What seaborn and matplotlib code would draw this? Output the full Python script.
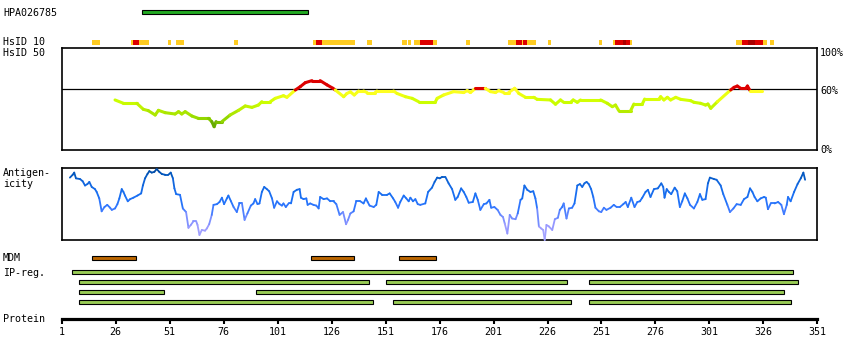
import matplotlib
matplotlib.use("Agg")
import numpy as np
import matplotlib.pyplot as plt
from matplotlib.collections import LineCollection
from matplotlib.colors import LinearSegmentedColormap, Normalize
import seaborn as sns

# ---------------- data ----------------
protein_len = 351
ruler_ticks = [1, 26, 51, 76, 101, 126, 151, 176, 201, 226, 251, 276, 301, 326, 351]

hpa_name = "HPA026785"
hpa_start, hpa_end = 38.2, 115.2

hsid10_start = [15.0, 33.1, 33.9, 36.8, 50.3, 54.0, 80.9, 117.6, 118.6, 121.4,
                142.4, 158.6, 161.2, 164.3, 167.0, 173.1, 188.1, 207.9, 211.5, 214.1,
                214.5, 216.7, 226.0, 249.8, 256.4, 257.4, 260.8, 262.5, 264.1, 313.3,
                316.0, 319.0, 322.1, 326.0, 329.2]
hsid10_end = [18.8, 33.9, 36.8, 41.5, 51.7, 57.7, 82.7, 118.6, 121.4, 137.0,
              144.5, 160.8, 162.6, 167.0, 173.1, 175.0, 190.3, 211.5, 214.1, 214.5,
              216.7, 220.7, 227.4, 251.2, 257.4, 260.8, 262.5, 264.1, 265.3, 316.0,
              319.0, 322.1, 326.0, 327.7, 330.9]
hsid10_level = ["o", "o", "r", "o", "o", "o", "o", "o", "r", "o",
                "o", "o", "o", "o", "r", "o", "o", "o", "r", "o",
                "r", "o", "o", "o", "o", "r", "d", "r", "o", "o",
                "r", "d", "r", "o", "o"]

hsid50_res = [25.7, 29.6, 35.8, 38.8, 41.1, 44.3, 45.8, 48.9, 53.5, 55.1,
              56.6, 58.2, 61.3, 64.3, 69.0, 70.5, 71.6, 72.5, 75.2, 79.0,
              82.9, 86.0, 89.1, 92.1, 93.7, 97.6, 99.9, 103.7, 105.3, 109.2,
              111.5, 113.8, 116.9, 120.7, 123.9, 126.6, 127.7, 131.6, 133.1, 134.7,
              136.5, 138.5, 140.8, 142.4, 146.2, 147.0, 154.7, 156.3, 160.2, 163.3,
              166.3, 171.7, 174.1, 174.9, 177.9, 182.5, 187.2, 188.8, 190.3, 192.6,
              197.2, 199.6, 201.9, 203.4, 205.7, 208.0, 210.8, 212.7, 215.8, 219.6,
              221.2, 227.4, 229.7, 232.0, 233.5, 236.7, 237.9, 239.8, 241.3, 250.6,
              253.7, 256.0, 257.5, 259.0, 264.5, 266.0, 269.9, 271.0, 277.6, 278.4,
              279.9, 281.5, 283.0, 285.4, 287.7, 292.3, 293.8, 296.9, 299.2, 300.3,
              301.6, 304.7, 310.8, 312.4, 313.9, 315.5, 317.8, 318.6, 319.8, 325.5]
hsid50_pct = [49.2, 45.9, 45.9, 40.0, 38.7, 34.4, 39.0, 36.7, 35.4, 37.7,
              35.4, 37.7, 33.4, 31.1, 31.1, 27.9, 22.9, 27.9, 27.9, 34.4,
              39.0, 43.3, 41.9, 44.2, 47.5, 47.5, 50.8, 53.4, 51.8, 59.0,
              62.3, 66.2, 68.2, 68.2, 64.0, 60.7, 59.0, 52.4, 55.6, 57.2,
              54.1, 58.0, 58.0, 56.5, 56.5, 58.0, 58.0, 55.6, 52.4, 50.8,
              47.5, 47.5, 47.5, 50.8, 54.1, 57.4, 56.5, 58.4, 56.5, 60.5,
              60.5, 57.4, 56.5, 58.4, 56.5, 56.5, 60.7, 55.6, 51.8, 51.8,
              49.8, 49.2, 45.0, 49.2, 46.9, 46.9, 49.2, 46.9, 49.2, 49.2,
              45.9, 42.6, 44.2, 38.7, 38.7, 45.2, 45.2, 50.1, 50.1, 52.4,
              49.2, 51.8, 49.2, 51.8, 49.8, 48.5, 46.9, 45.9, 44.2, 45.2,
              41.0, 47.5, 59.0, 61.6, 62.9, 60.6, 60.6, 62.9, 58.4, 58.4]

antigen_res = [4.8, 6.1, 6.8, 7.6, 9.5, 10.7, 11.8, 12.9, 13.8, 14.9,
               16.4, 17.2, 18.4, 19.5, 20.8, 22.1, 23.4, 24.2, 25.7, 26.8,
               27.7, 28.8, 29.6, 30.3, 31.6, 32.7, 34.2, 36.1, 37.8, 38.6,
               39.6, 40.7, 41.6, 42.7, 43.9, 45.0, 46.2, 47.4, 48.9, 50.4,
               51.5, 52.5, 53.2, 54.0, 55.8, 57.1, 58.6, 59.7, 60.8, 62.0,
               63.3, 63.9, 64.8, 65.9, 67.4, 68.2, 69.3, 70.5, 71.3, 72.9,
               74.1, 75.2, 76.2, 77.5, 78.2, 79.4, 80.6, 82.1, 83.3, 84.5,
               85.7, 87.0, 88.6, 89.8, 90.6,
               91.7, 92.6, 93.7, 94.8, 96.0, 97.1, 98.4, 99.4, 100.7, 101.9,
               103.0, 103.7, 104.8, 106.1, 107.2, 108.4, 109.9, 111.2, 111.8, 113.0,
               114.3, 114.9, 116.1, 117.6, 118.9, 120.0, 120.7, 122.3, 123.9, 125.4,
               126.9, 128.2, 129.7, 131.3, 132.7, 133.6, 134.7, 136.2, 137.4, 139.3,
               140.8, 141.9, 142.7, 143.6, 145.5, 146.7, 147.8, 149.4, 151.7, 152.9,
               154.5, 155.5, 156.8, 157.8, 159.4, 160.6, 161.7, 162.5, 163.7, 164.8,
               165.9, 167.1, 169.4, 170.7, 172.5, 173.7, 174.9, 176.1, 177.2, 178.7,
               180.2, 181.8, 183.3, 184.4, 186.0, 187.2, 188.4, 189.5, 191.4,
               192.6, 193.7, 194.9, 196.5, 197.7, 199.1, 199.9, 201.4, 202.9, 204.2,
               205.4, 206.2, 207.4, 208.5, 209.6, 211.2, 212.2, 213.5, 214.3, 215.3,
               216.6, 218.1, 219.4, 220.4, 221.2, 222.0, 223.1, 224.0, 224.7, 225.5,
               226.6, 228.2, 229.4, 230.8, 231.7, 232.8, 233.5, 234.8, 235.9, 237.4,
               238.5, 239.8, 241.0, 242.1, 243.1, 244.1, 245.1, 246.2, 247.2, 248.2,
               249.8, 250.9, 252.1, 253.3, 255.2, 256.7, 258.0, 259.5, 261.1, 262.2,
               263.2, 264.8,
               266.3, 267.6, 268.8, 269.9, 271.4, 272.5, 273.7, 275.3, 277.1, 278.7,
               279.6, 280.2, 281.2, 282.2, 283.3, 284.9, 286.1, 287.3, 288.4, 289.6,
               290.8, 292.0, 293.8, 295.4, 296.6, 297.7, 299.2, 300.3, 301.2, 303.1,
               304.3, 306.2, 307.4, 309.3, 310.5, 312.1, 313.6, 315.5, 317.0, 318.6,
               319.8, 320.9, 321.9, 323.2, 324.7, 326.3, 327.1, 328.1, 329.4, 331.2,
               332.8, 334.3, 335.5, 336.8, 337.4, 338.6, 340.2, 341.8, 343.3, 344.5,
               345.3]
antigen_val = [.87, .91, .94, .86, .85, .82, .76, .78, .81, .74,
               .71, .67, .58, .40, .46, .49, .45, .42, .44, .50,
               .58, .71, .67, .62, .54, .57, .59, .62, .65, .76,
               .86, .92, .96, .94, .95, .99, .95, .92, .91, .91,
               .94, .86, .72, .64, .63, .44, .39, .17, .21, .26,
               .26, .21, .07, .14, .13, .16, .22, .35, .49, .50,
               .53, .59, .50, .58, .62, .54, .46, .39, .51, .51,
               .28, .37, .48, .51, .57,
               .50, .51, .67, .74, .71, .68, .58, .45, .54, .50,
               .48, .51, .46, .51, .51, .67, .70, .71, .59, .57,
               .58, .49, .51, .49, .48, .44, .60, .57, .58, .54,
               .54, .50, .35, .39, .22, .28, .37, .40, .54, .54,
               .51, .58, .53, .48, .46, .49, .67, .63, .63, .65,
               .58, .53, .45, .53, .62, .58, .54, .59, .54, .57,
               .50, .49, .51, .67, .73, .81, .87, .86, .88, .88,
               .79, .71, .56, .60, .72, .67, .60, .52, .53,
               .65, .56, .42, .50, .51, .56, .45, .46, .42, .35,
               .32, .23, .09, .35, .30, .29, .37, .56, .58, .76,
               .70, .67, .68, .58, .44, .19, .16, .14, .00, .21,
               .19, .14, .29, .31, .42, .46, .51, .30, .44, .45,
               .51, .76, .78, .74, .79, .81, .78, .71, .60, .45,
               .40, .39, .45, .42, .45, .49, .46, .46, .50, .53,
               .46, .59,
               .46, .53, .54, .59, .67, .70, .60, .71, .72, .79,
               .74, .59, .71, .67, .64, .73, .68, .46, .54, .65,
               .58, .49, .44, .53, .64, .56, .57, .79, .87, .85,
               .84, .76, .64, .49, .39, .44, .50, .49, .57, .60,
               .72, .67, .60, .54, .58, .60, .59, .43, .51, .51,
               .53, .49, .36, .49, .60, .54, .67, .78, .86, .94,
               .84]

mdm_start = [15.2, 116.3, 157.0]
mdm_end = [35.3, 136.2, 174.2]

ip_row = [0, 1, 1, 1, 2, 2, 3, 3, 3]
ip_start = [5.6, 9.2, 151.0, 245.1, 9.2, 91.2, 9.2, 154.3, 245.1]
ip_end = [339.9, 143.3, 235.1, 342.2, 48.3, 335.3, 145.2, 237.0, 338.8]

# ---------------- style ----------------
sns.set_theme(style="white")
plt.rcParams["font.family"] = ["DejaVu Sans Mono", "DejaVu Sans"]
FS = 7.2

W, H = 850, 360
L, R = 61.7, 817.4
fig = plt.figure(figsize=(W / 100, H / 100), dpi=100)
fig.patch.set_facecolor("white")


def rect(x0, y0, x1, y1):
    return [x0 / W, 1 - y1 / H, (x1 - x0) / W, (y1 - y0) / H]


def label(x, ybase, s, va="baseline"):
    fig.text(x / W, 1 - ybase / H, s, fontsize=FS, color="black", va=va, ha="left")


# track axes (layout rows in pixel units, x in residues)
track = fig.add_axes(rect(L, 0, R, H))
track.set_xlim(1, protein_len)
track.set_ylim(H, 0)
track.axis("off")
track.patch.set_alpha(0)

# HPA antigen bar
track.barh(12.3, hpa_end - hpa_start, left=hpa_start, height=4.0,
           color="#22aa22", edgecolor="black", linewidth=0.8)

# HsID 10 bars
lvl_col = {"o": "#ffcc22", "r": "#dd0000", "d": "#aa0000"}
track.barh([42.5] * len(hsid10_start),
           np.array(hsid10_end) - np.array(hsid10_start), left=hsid10_start,
           height=5.0, color=[lvl_col[l] for l in hsid10_level], linewidth=0)

# MDM bars
track.barh([257.8] * len(mdm_start), np.array(mdm_end) - np.array(mdm_start),
           left=mdm_start, height=4.2, color="#bb6600", edgecolor="black", linewidth=0.8)

# IP-reg bars
track.barh(272.3 + 10 * np.array(ip_row), np.array(ip_end) - np.array(ip_start),
           left=ip_start, height=4.0, color="#99cc55", edgecolor="black", linewidth=0.8)

# ---------------- HsID 50 panel ----------------
ax50 = fig.add_axes(rect(L, 48.3, R, 150))
ax50.set_xlim(1, protein_len)
ax50.set_ylim(0, 100)
ax50.set_xticks([])
ax50.set_yticks([])
for s in ax50.spines.values():
    s.set_linewidth(1.2)
    s.set_color("black")
ax50.axhline(60, color="black", lw=0.9, zorder=1)

green_cmap = LinearSegmentedColormap.from_list(
    "hsid", [(0.0, "#448800"), (0.125, "#66aa00"), (0.3, "#99dd00"),
             (0.5, "#bbee00"), (0.7, "#ccff00"), (0.85, "#eeff11"),
             (0.95, "#ffff22"), (1.0, "#ffff22")])
gnorm = Normalize(20, 60)
x50 = np.array(hsid50_res)
y50 = np.array(hsid50_pct)
pts = np.column_stack([x50, y50])
segs = np.stack([pts[:-1], pts[1:]], axis=1)
mids = (y50[:-1] + y50[1:]) / 2
cols = ["#dd0000" if m >= 59.8 else green_cmap(gnorm(m)) for m in mids]
ax50.add_collection(LineCollection(segs, colors=cols, linewidths=2.2,
                                   capstyle="round", joinstyle="round", zorder=2))

# ---------------- Antigenicity panel ----------------
axa = fig.add_axes(rect(L, 168.3, R, 240))
axa.set_xlim(1, protein_len)
axa.set_ylim(0, 1)
axa.set_xticks([])
axa.set_yticks([])
for s in axa.spines.values():
    s.set_linewidth(1.2)
    s.set_color("black")
blue_cmap = LinearSegmentedColormap.from_list(
    "ant", [(0.0, "#aaaaff"), (0.2, "#9999ff"), (0.35, "#6688ff"),
            (0.45, "#3377ff"), (0.6, "#1a70f5"), (0.8, "#1166dd"),
            (0.92, "#0055bb"), (1.0, "#004499")])
xa = np.array(antigen_res)
ya = np.array(antigen_val)
pa = np.column_stack([xa, ya])
sa = np.stack([pa[:-1], pa[1:]], axis=1)
ma = (ya[:-1] + ya[1:]) / 2
axa.add_collection(LineCollection(sa, colors=[blue_cmap(m) for m in ma],
                                  linewidths=1.3, capstyle="round", joinstyle="round",
                                  clip_on=False, zorder=3))

# ---------------- protein ruler ----------------
axr = fig.add_axes(rect(L, 319, R, 319.01))
axr.set_xlim(1, protein_len)
axr.set_ylim(0, 1)
for s in ["top", "left", "right"]:
    axr.spines[s].set_visible(False)
axr.spines["bottom"].set_linewidth(2.3)
axr.spines["bottom"].set_color("black")
axr.set_yticks([])
axr.set_xticks(ruler_ticks)
axr.set_xticklabels([str(t) for t in ruler_ticks])
axr.tick_params(axis="x", bottom=True, direction="out", length=3.4, width=1.5,
                pad=2.6, labelsize=FS, colors="black")
axr.patch.set_alpha(0)

# ---------------- labels ----------------
label(3, 16.0, hpa_name)
label(3, 45.4, "HsID 10")
label(3, 56.0, "HsID 50")
label(3, 176.3, "Antigen-")
label(3, 187.0, "icity")
label(3, 261.0, "MDM")
label(3, 275.5, "IP-reg.")
label(3, 322.3, "Protein")
label(820, 52.5, "100%", va="center")
label(820, 90.8, "60%", va="center")
label(820, 150.0, "0%", va="center")

fig.savefig("out.png", dpi=100, facecolor="white")
